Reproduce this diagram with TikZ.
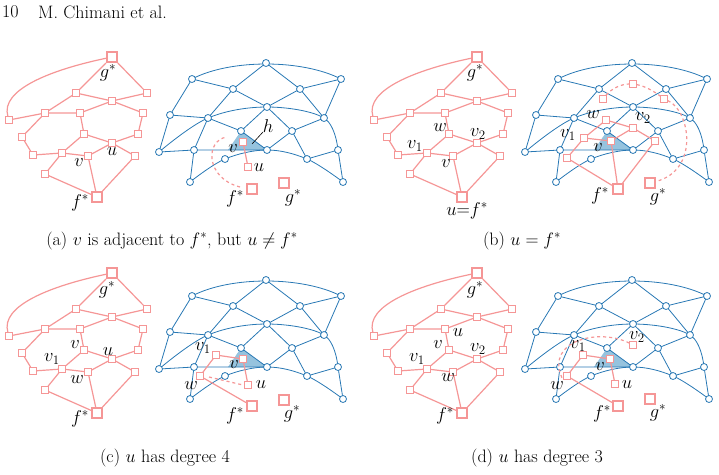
\RequirePackage{fix-cm}
\documentclass[tikz,border=0pt]{standalone}
\begin{document}
\begin{tikzpicture}[x=1pt,y=-1pt,
  pk/.style={draw=pinkc,line width=1.2pt},
  bl/.style={draw=bluec,line width=0.8pt},
  ps/.style={draw=pinkc,fill=white,line width=1pt,minimum size=6.5pt,inner sep=0pt,rectangle},
  PS/.style={draw=pinkc,fill=white,line width=1.6pt,minimum size=10.5pt,inner sep=0pt,rectangle},
  bs/.style={draw=bluec,fill=white,line width=0.8pt,circle,minimum size=7pt,inner sep=0pt},
  lb/.style={inner sep=0pt,font=\fontsize{18.5}{21}\selectfont},
  captxt/.style={inner sep=0pt,font=\fontsize{18}{21}\selectfont}]
\definecolor{pinkc}{RGB}{245,150,150}
\definecolor{bluec}{RGB}{40,120,180}
\definecolor{bfill}{RGB}{150,195,222}
\useasboundingbox (0,0) rectangle (719,474);
\newcommand{\pinkG}[2]{\begin{scope}[shift={(#1,#2)}]
 \node[PS] (gs) at (112,57) {};
 \node[ps] (a1) at (9,120) {};
 \node[ps] (b1) at (76,93) {}; \node[ps] (b2) at (147,93) {};
 \node[ps] (c) at (112,101) {};
 \node[ps] (d1) at (45,113) {}; \node[ps] (d2) at (80,113) {}; \node[ps] (d3) at (143,113) {};
 \node[ps] (e1) at (22,137) {}; \node[ps] (e2) at (84,134) {}; \node[ps] (e3) at (138,134) {};
 \node[ps] (uu) at (112,143) {};
 \node[ps] (f1) at (33,155) {}; \node[ps] (f2) at (62,153) {}; \node[ps] (vv) at (88,156) {};
 \node[ps] (f3) at (135,156) {}; \node[ps] (h1) at (45,174) {};
 \node[PS] (fs) at (97,197) {};
 \draw[pk] (gs) .. controls (50,70) and (0,90) .. (a1);
 \draw[pk] (gs)--(b1) (gs)--(b2) (b1)--(c) (b2)--(c) (b1)--(d1) (a1)--(d1) (d1)--(d2) (d2)--(c) (c)--(d3)
  (d3)--(e3) (e3)--(uu) (d2)--(e2) (e2)--(uu) (e2)--(f2) (d1)--(e1) (e1)--(f1) (f1)--(f2) (f2)--(vv)
  (vv)--(uu) (uu)--(f3) (f3)--(fs) (vv)--(fs) (f2)--(h1) (h1)--(fs);
\end{scope}}
\newcommand{\blueG}[2]{\begin{scope}[shift={(#1,#2)}]
 \fill[bfill] (241,131)--(267,150)--(228,150)--cycle;
 \draw[bl] (192,79) .. controls (230,59) and (302,59) .. (341,79);
 \draw[bl] plot[smooth,tension=0.6] coordinates {(159,152)(208,118)(267,107)(324,118)(338,150)};
 \draw[bl] plot[smooth,tension=0.6] coordinates {(190,182)(225,159)(267,150)(307,159)(343,182)};
 \draw[bl] (192,79)--(233,89)--(266,63)--(300,89)--(341,79)
  (192,79)--(170,115)--(208,118) (170,115)--(159,152)--(194,150)--(267,150)
  (233,89)--(208,118) (233,89)--(267,107)--(300,89)--(324,118)--(341,79)
  (208,118)--(241,131)--(267,107)--(292,131)--(324,118)
  (208,118)--(194,150)--(190,182)
  (241,131)--(267,150)--(292,131)--(307,159)--(338,150)--(343,182);
 \foreach \p in {(192,79),(266,63),(341,79),(233,89),(300,89),(170,115),(208,118),(267,107),(324,118),
   (241,131),(292,131),(159,152),(194,150),(267,150),(338,150),(225,159),(307,159),(190,182),(343,182)}
   \node[bs] at \p {};
\end{scope}}
% header
\node[captxt,anchor=west] (pg) at (2,12) {10};
\node[captxt,anchor=west] (au) at (38,12) {M. Chimani et al.};
% ---------- (a)
\pinkG{0}{0}
\node[lb] (la1) at (108,73) {$g^*$};
\node[lb] (la2) at (112,152) {$u$};
\node[lb] (la3) at (79,163) {$v$};
\node[lb] (la4) at (80,203) {$f^*$};
\blueG{0}{0}
\draw[pk,dashed] (240,187) .. controls (205,178) and (205,140) .. (227,137);
\node[ps] (av) at (243,142) {};
\node[ps] (au2) at (248,167) {};
\draw[pk] (av)--(au2);
\node[PS] (afs) at (252,189) {};
\node[PS] (ags) at (284,183) {};
\node[lb] (lv) at (233,149) {$v$};
\node[lb] (lu) at (259,168) {$u$};
\node[lb] (lh) at (268,126) {$h$};
\draw[black,line width=0.6pt] (263,132)--(252,144);
\node[lb] (lf) at (235,199) {$f^*$};
\node[lb] (lg) at (293,198) {$g^*$};
\node[captxt] (capa) at (172,241) {(a) $v$ is adjacent to $f^*$, but $u\neq f^*$};
% ---------- (b)
\pinkG{365}{0}
\node[lb] at (475,73) {$g^*$};
\node[lb] at (440,128) {$w$};
\node[lb] at (478,134) {$v_2$};
\node[lb] at (415,146) {$v_1$};
\node[lb] at (446,164) {$v$};
\node[lb] at (467,211) {$u{=}f^*$};
\blueG{366}{0}
\node[ps] (b1n) at (633,84) {};
\node[ps] (b2n) at (603,99) {};
\node[ps] (b3n) at (664,99) {};
\node[ps] (b4n) at (606,120) {};
\node[ps] (b5n) at (633,128) {};
\node[ps] (b6n) at (584,138) {};
\node[ps] (b7n) at (611,141) {};
\node[ps] (b8n) at (655,141) {};
\node[ps] (b9n) at (567,158) {};
\node[PS] (bfs) at (618,189) {};
\node[PS] (bgs) at (650,183) {};
\draw[pk] (b9n)--(bfs) (b7n)--(bfs) (b8n)--(bfs) (b9n)--(b6n) (b6n)--(b7n) (b6n)--(b4n)
  (b4n)--(b5n) (b7n)--(b5n) (b5n)--(b8n);
\draw[pk,dashed] (b2n) .. controls (612,88) and (622,84) .. (b1n);
\draw[pk,dashed] (b1n) .. controls (645,86) and (655,92) .. (b3n);
\draw[pk,dashed] (b3n) .. controls (690,110) and (700,170) .. (bgs);
\node[lb] at (593,115) {$w$};
\node[lb] at (568,135) {$v_1$};
\node[lb] at (643,118) {$v_2$};
\node[lb] at (598,148) {$v$};
\node[lb] at (600,196) {$f^*$};
\node[lb] at (658,197) {$g^*$};
\node[captxt] (capb) at (522,241) {(b) $u=f^*$};
% ---------- (c)
\pinkG{0}{216}
\node[lb] at (107,290) {$g^*$};
\node[lb] at (75,345) {$v$};
\node[lb] at (108,352) {$u$};
\node[lb] at (52,359) {$v_1$};
\node[lb] at (77,380) {$w$};
\node[lb] at (80,419) {$f^*$};
\blueG{0}{217}
\node[ps] (c1n) at (216,355) {};
\node[ps] (cv) at (243,359) {};
\node[ps] (cu) at (248,385) {};
\node[ps] (cw) at (200,376) {};
\node[PS] (cfs) at (252,406) {};
\node[PS] (cgs) at (284,400) {};
\draw[pk] (cw)--(c1n)--(cv)--(cu) (cw)--(cfs);
\draw[pk,dashed] (209,377)--(243,385);
\node[lb] at (203,348) {$v_1$};
\node[lb] at (234,365) {$v$};
\node[lb] at (261,385) {$u$};
\node[lb] at (191,386) {$w$};
\node[lb] at (235,416) {$f^*$};
\node[lb] at (292,414) {$g^*$};
\node[captxt] (capc) at (165,458) {(c) $u$ has degree 4};
% ---------- (d)
\pinkG{365}{216}
\node[lb] at (475,290) {$g^*$};
\node[lb] at (458,333) {$u$};
\node[lb] at (438,345) {$v$};
\node[lb] at (478,349) {$v_2$};
\node[lb] at (417,359) {$v_1$};
\node[lb] at (448,378) {$w$};
\node[lb] at (445,416) {$f^*$};
\blueG{366}{217}
\node[ps] (d1n) at (583,355) {};
\node[ps] (dv) at (610,359) {};
\node[ps] (du) at (615,384) {};
\node[ps] (dw) at (567,376) {};
\node[ps] (dv2) at (633,345) {};
\node[PS] (dfs) at (618,406) {};
\node[PS] (dgs) at (650,399) {};
\draw[pk] (dw)--(d1n)--(dv)--(du) (dw)--(dfs);
\draw[pk,dashed] (dv2) .. controls (600,328) and (545,340) .. (562,378);
\node[lb] at (578,346) {$v_1$};
\node[lb] at (637,337) {$v_2$};
\node[lb] at (600,367) {$v$};
\node[lb] at (627,385) {$u$};
\node[lb] at (557,386) {$w$};
\node[lb] at (602,414) {$f^*$};
\node[lb] at (658,413) {$g^*$};
\node[captxt] (capd) at (537,458) {(d) $u$ has degree 3};
\end{tikzpicture}
\end{document}
